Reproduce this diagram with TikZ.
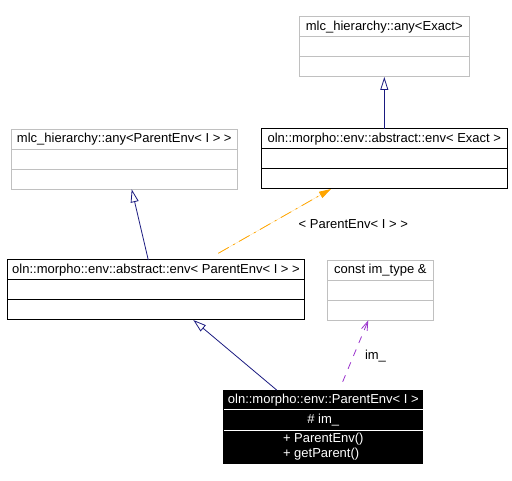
\documentclass[tikz,border=0pt]{standalone}
\usepackage{fontspec}
\setmainfont{Liberation Sans}
\usetikzlibrary{arrows.meta, positioning, calc}
\definecolor{boxgrey}{HTML}{C0C0C0}
\definecolor{inheritnavy}{HTML}{1A1A80}
\definecolor{templorange}{HTML}{FFA500}
\definecolor{usepurple}{HTML}{9A32CD}

\begin{document}
\begin{tikzpicture}[
  x=1pt, y=-1pt,
  every node/.style={font=\fontsize{13}{14.3}\selectfont},
  greyrow/.style={rectangle, draw=boxgrey, line width=1pt, minimum height=20pt, inner sep=0pt, outer sep=0pt},
  plainrow/.style={rectangle, draw=black, line width=1pt, minimum height=20pt, inner sep=0pt, outer sep=0pt},
  darkrow/.style={rectangle, draw=black, fill=black, text=white, line width=1pt, inner sep=0pt, outer sep=0pt},
  inherit/.style={-{Triangle[open, length=13pt, width=8pt]}, draw=inheritnavy, line width=0.8pt},
  templ/.style={-{Triangle[length=12pt, width=7pt]}, draw=templorange, fill=templorange, line width=0.8pt, dash pattern=on 12pt off 5pt on 2pt off 5pt},
  uses/.style={-{Straight Barb[length=9pt, width=6pt]}, draw=usepurple, line width=0.8pt, dash pattern=on 7pt off 7pt},
  elabel/.style={inner sep=0pt}
]
  \useasboundingbox (0,0) rectangle (512,481);

  % template base
  \node[greyrow, minimum width=170pt] (anyExact) at (384.3,27) {mlc\_hierarchy::any<Exact>};
  \node[greyrow, minimum width=170pt, below=0pt of anyExact] (anyExactAttr) {};
  \node[greyrow, minimum width=170pt, below=0pt of anyExactAttr] (anyExactOps) {};

  \node[plainrow, minimum width=246pt] (absExact) at (384.3,139) {oln::morpho::env::abstract::env< Exact >};
  \node[plainrow, minimum width=246pt, below=0pt of absExact] (absExactAttr) {};
  \node[plainrow, minimum width=246pt, below=0pt of absExactAttr] (absExactOps) {};

  % instantiated bases
  \node[greyrow, minimum width=226pt] (anyParent) at (124.3,139.3) {mlc\_hierarchy::any<ParentEnv< I > >};
  \node[greyrow, minimum width=226pt, below=0pt of anyParent] (anyParentAttr) {};
  \node[greyrow, minimum width=226pt, below=0pt of anyParentAttr] (anyParentOps) {};

  \node[plainrow, minimum width=297.4pt] (absParent) at (156,270) {oln::morpho::env::abstract::env< ParentEnv< I > >};
  \node[plainrow, minimum width=297.4pt, below=0pt of absParent] (absParentAttr) {};
  \node[plainrow, minimum width=297.4pt, below=0pt of absParentAttr] (absParentOps) {};

  \node[greyrow, minimum width=106pt] (imType) at (380.3,270.3) {const im\_type \&};
  \node[greyrow, minimum width=106pt, below=0pt of imType] (imTypeAttr) {};
  \node[greyrow, minimum width=106pt, below=0pt of imTypeAttr] (imTypeOps) {};

  % the class itself
  \node[darkrow, minimum width=198.7pt, minimum height=19.3pt] (parentEnv) at (323.3,399.7) {oln::morpho::env::ParentEnv< I >};
  \node[darkrow, minimum width=198.7pt, minimum height=20.7pt, below=0pt of parentEnv] (parentEnvAttr) {\# im\_};
  \node[darkrow, minimum width=198.7pt, minimum height=33.3pt, align=left, below=0pt of parentEnvAttr] (parentEnvOps) {+ ParentEnv()\\+ getParent()};
  \draw[white, line width=1pt] (parentEnv.south west) -- (parentEnv.south east);
  \draw[white, line width=1pt] (parentEnvAttr.south west) -- (parentEnvAttr.south east);

  % connectors
  \draw[inherit] (absExact.north) -- (anyExactOps.south);
  \draw[inherit] ([xshift=-7.7pt]absParent.north) -- ([xshift=7.4pt]anyParentOps.south);
  \draw[templ] ([xshift=62.3pt, yshift=6.7pt]absParent.north) -- ([xshift=-53.3pt]absExactOps.south);
  \draw[inherit] ([xshift=-46.6pt]parentEnv.north) -- ([xshift=37.3pt]absParentOps.south);
  \draw[uses] ([xshift=19.4pt, yshift=8.3pt]parentEnv.north) -- ([xshift=-12pt]imTypeOps.south);

  \node[elabel] (lblParent) at (353.3,224) {< ParentEnv< I > >};
  \node[elabel] (lblIm) at (375.5,356.5) {im\_};
\end{tikzpicture}
\end{document}
